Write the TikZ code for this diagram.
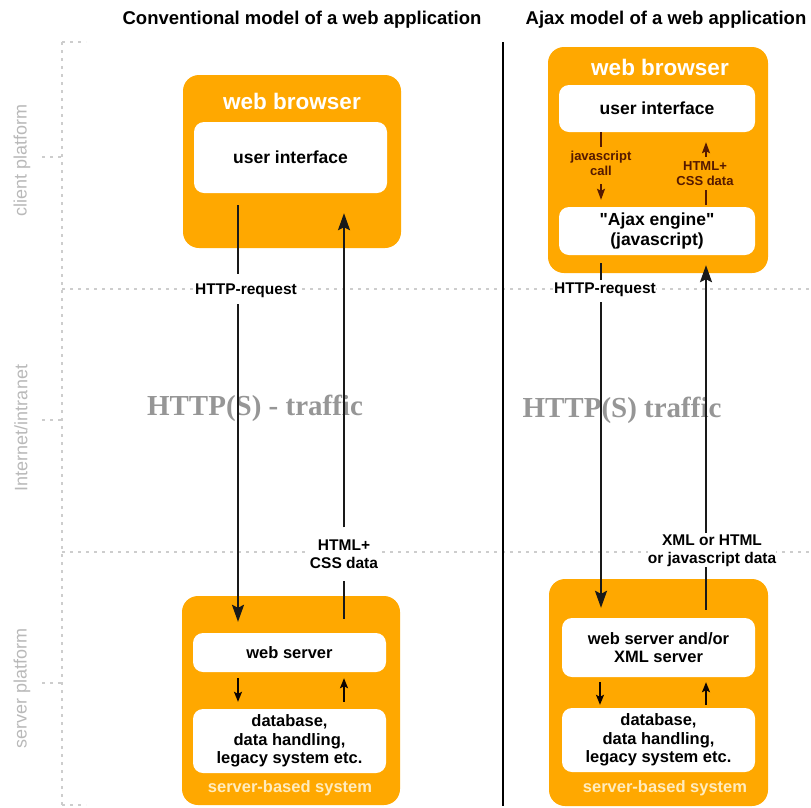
\documentclass[tikz,border=0pt]{standalone}
\usepackage{fontspec}
\setsansfont{Liberation Sans}
\newfontfamily\trafficfont{Liberation Serif}
\usetikzlibrary{arrows.meta,calc}
\definecolor{boxorange}{RGB}{255,168,0}
\definecolor{sidegray}{RGB}{185,185,185}
\definecolor{dotgray}{RGB}{205,205,205}
\definecolor{trafficgray}{RGB}{150,150,150}
\definecolor{brownlbl}{RGB}{85,25,0}
\definecolor{paletext}{RGB}{255,236,190}
\newcommand{\fs}[2]{\fontsize{#1}{#2}\selectfont}
\begin{document}
\begin{tikzpicture}[x=1pt,y=-1pt,
  obox/.style={fill=boxorange, rounded corners=16pt, inner sep=0pt},
  wbox/.style={fill=white, rounded corners=10pt, inner sep=0pt},
  title/.style={font=\sffamily\bfseries\fs{18.5}{22}, text=black, inner sep=0pt},
  boxtitle/.style={font=\sffamily\bfseries\fs{22.5}{26}, text=white, inner sep=0pt},
  boxtext/.style={font=\sffamily\bfseries\fs{16.5}{18.5}, text=black, align=center, inner sep=0pt},
  pale/.style={font=\sffamily\bfseries\fs{16.5}{19}, text=paletext, inner sep=0pt},
  lbl/.style={font=\sffamily\bfseries\fs{15.5}{18}, text=black, align=center, inner sep=0pt, fill=white},
  smalllbl/.style={font=\sffamily\bfseries\fs{13}{15}, text=brownlbl, align=center, inner sep=0pt, fill=boxorange},
  side/.style={font=\sffamily\fs{18}{20}, text=sidegray, rotate=90, inner sep=0pt},
  traffic/.style={font=\trafficfont\bfseries\fs{29}{32}, text=trafficgray, inner sep=0pt},
  dotline/.style={draw=dotgray, line width=1.3pt, dash pattern=on 2.5pt off 5.5pt},
  bigline/.style={line width=2pt, draw=black!90},
  bigarrow/.style={bigline, -{Stealth[length=17pt,width=12pt,inset=3pt]}},
  inline/.style={line width=1.6pt, draw=brownlbl},
  inarrow/.style={inline, -{Stealth[length=11pt,width=8pt,inset=2pt]}},
  smallarrow/.style={line width=1.5pt, draw=black!85!brownlbl, -{Stealth[length=10pt,width=8pt,inset=2pt]}}
]
\useasboundingbox (0,0) rectangle (811,807);

% ---------- guide lines ----------
\coordinate (vtop) at (62,42);
\coordinate (vbot) at (62,805);
\draw[dotline] (vtop) -- (vbot);
\draw[dotline] (vtop) -- ++(24,0);
\draw[dotline] (vbot) -- ++(24,0);
\draw[dotline] (42,157) -- (62,157);
\draw[dotline] (42,420) -- (62,420);
\draw[dotline] (42,683) -- (62,683);
\draw[dotline] (62,289) -- (811,289);
\draw[dotline] (62,552) -- (811,552);

\node[side] (s1) at (22,160) {client platform};
\node[side] (s2) at (21,428) {Internet/intranet};
\node[side] (s3) at (22,688) {server platform};

% divider
\coordinate (dtop) at (503,42);
\coordinate (dbot) at (503,806);
\draw[line width=2.6pt] (dtop) -- (dbot);

% titles
\node[title] (t1) at (302,20) {Conventional model of a web application};
\node[title] (t2) at (666,20) {Ajax model of a web application};

% traffic texts
\node[traffic] (tr1) at (255,408) {HTTP(S) - traffic};
\node[traffic] (tr2) at (622,410) {HTTP(S) traffic};

% ---------- left (conventional) ----------
\node[obox, minimum width=218pt, minimum height=173pt] (lbr) at (292,161.5) {};
\node[boxtitle] (lbrt) at (292,101) {web browser};
\node[wbox, minimum width=193pt, minimum height=71pt] (lui) at (290.5,157.5) {};
\node[boxtext, font=\sffamily\bfseries\fs{17.5}{20}] at (lui) {user interface};

\node[obox, minimum width=218pt, minimum height=209pt] (lsrv) at (291,700.5) {};
\node[wbox, minimum width=193pt, minimum height=39pt] (lws) at (289.5,652.5) {};
\node[boxtext] at (lws) {web server};
\node[wbox, minimum width=193pt, minimum height=64pt] (ldb) at (289.5,741) {};
\node[boxtext] at (ldb) {database,\\data handling,\\legacy system etc.};
\node[pale] (lsbs) at (290,788) {server-based system};

\coordinate (xL1) at (238,0);
\coordinate (xL2) at (344,0);
\node[lbl] (lreq) at (246,291) {HTTP-request};
\node[lbl] (lhtml) at (344,554) {HTML+\\CSS data};

\draw[bigline, shorten <=12pt, shorten >=10pt] (lui.south -| xL1) -- (lreq.north -| xL1);
\draw[bigarrow, shorten <=6pt, shorten >=11pt] (lreq.south -| xL1) -- (lws.north -| xL1);
\draw[bigline, shorten <=14pt, shorten >=12pt] (lws.north -| xL2) -- (lhtml.south -| xL2);
\draw[bigarrow, shorten <=12pt, shorten >=20pt] (lhtml.north -| xL2) -- (lui.south -| xL2);

\draw[smallarrow, shorten <=6pt, shorten >=7pt] (lws.south -| xL1) -- (ldb.north -| xL1);
\draw[smallarrow, shorten <=7pt, shorten >=6pt] (ldb.north -| xL2) -- (lws.south -| xL2);

% ---------- right (Ajax) ----------
\node[obox, minimum width=220pt, minimum height=226pt] (rbr) at (658,160) {};
\node[boxtitle] (rbrt) at (660,67) {web browser};
\node[wbox, minimum width=196pt, minimum height=47pt] (rui) at (657,108.5) {};
\node[boxtext, font=\sffamily\bfseries\fs{17.5}{20}] at (rui) {user interface};
\node[wbox, minimum width=196pt, minimum height=48pt] (rajax) at (657,231) {};
\node[boxtext, font=\sffamily\bfseries\fs{17.5}{20}] at (rajax) {\textquotedbl Ajax engine\textquotedbl\\(javascript)};

\node[obox, minimum width=219pt, minimum height=227pt] (rsrv) at (658.5,692.5) {};
\node[wbox, minimum width=193pt, minimum height=59pt] (rws) at (658.5,647.5) {};
\node[boxtext] at (rws) {web server and/or\\XML server};
\node[wbox, minimum width=193pt, minimum height=64pt] (rdb) at (658.5,740) {};
\node[boxtext] at (rdb) {database,\\data handling,\\legacy system etc.};
\node[pale] (rsbs) at (665,788) {server-based system};

\coordinate (xR1) at (601,0);
\coordinate (xR2) at (706,0);

\node[smalllbl] (rjs) at (601,163) {javascript\\call};
\node[smalllbl] (rhtml) at (705,174) {HTML+\\CSS data};
\draw[inline, shorten >=4pt] (rui.south -| xR1) -- (rjs.north -| xR1);
\draw[inarrow, shorten <=9pt, shorten >=7pt] (rjs.south -| xR1) -- (rajax.north -| xR1);
\draw[inline, shorten <=2pt, shorten >=4pt] (rajax.north -| xR2) -- (rhtml.south -| xR2);
\draw[inarrow, shorten <=5pt, shorten >=10pt] (rhtml.north -| xR2) -- (rui.south -| xR2);

\node[lbl] (rreq) at (605,290) {HTTP-request};
\node[lbl] (rxml) at (712,551) {XML or HTML\\or javascript data};
\draw[bigline, shorten <=8pt, shorten >=3pt] (rajax.south -| xR1) -- (rreq.north -| xR1);
\draw[bigarrow, shorten <=5pt, shorten >=10pt] (rreq.south -| xR1) -- (rws.north -| xR1);
\draw[bigline, shorten <=8pt] (rws.north -| xR2) -- (rxml.south -| xR2);
\draw[bigarrow, shorten <=2pt, shorten >=10pt] (rxml.north -| xR2) -- (rajax.south -| xR2);

\draw[smallarrow, shorten <=5pt, shorten >=3pt] (rws.south -| 600,0) -- (rdb.north -| 600,0);
\draw[smallarrow, shorten <=3pt, shorten >=5pt] (rdb.north -| xR2) -- (rws.south -| xR2);
\end{tikzpicture}
\end{document}
